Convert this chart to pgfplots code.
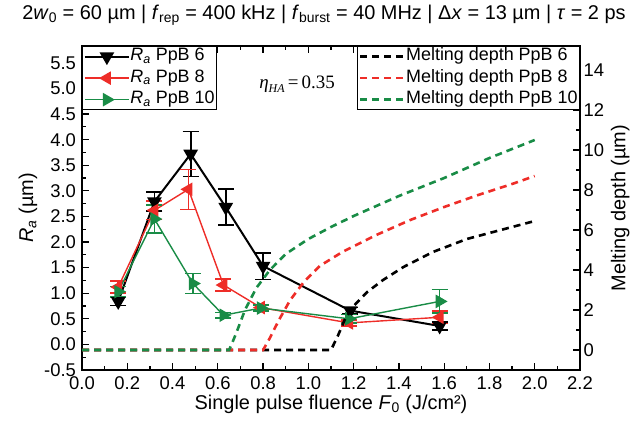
\documentclass[border=0pt]{standalone}
\usepackage{pgfplots}
\pgfplotsset{compat=1.18}
\usepackage{pgfplotstable}
\usepackage{fontspec}
\setmainfont{Liberation Sans}
\newfontfamily\serif{Liberation Serif}

\definecolor{cred}{RGB}{238,45,40}
\definecolor{cgreen}{RGB}{25,140,70}

% surface roughness: x, Ra, error
\pgfplotstableread{
x y e
0.16 0.84 0.08
0.32 2.79 0.18
0.48 3.72 0.44
0.635 2.68 0.35
0.80 1.53 0.26
1.185 0.66 0.06
1.58 0.36 0.08
}\rasix
\pgfplotstableread{
x y e
0.16 1.12 0.12
0.32 2.62 0.18
0.47 3.03 0.39
0.625 1.16 0.12
0.79 0.72 0.05
1.18 0.42 0.06
1.58 0.53 0.12
}\raeight
\pgfplotstableread{
x y e
0.16 1.03 0.10
0.32 2.45 0.27
0.49 1.19 0.20
0.625 0.57 0.05
0.79 0.71 0.06
1.18 0.50 0.08
1.58 0.84 0.23
}\raten

% simulated melting depth
\pgfplotstableread{
x y
0.00 0
1.10 0
1.13 0.7
1.16 1.5
1.20 2.2
1.26 2.9
1.33 3.5
1.42 4.15
1.55 4.9
1.70 5.55
1.85 6.0
2.00 6.45
}\mdsix
\pgfplotstableread{
x y
0.00 0
0.80 0
0.83 0.6
0.87 1.5
0.92 2.5
0.98 3.4
1.05 4.2
1.15 4.9
1.30 5.75
1.45 6.5
1.60 7.15
1.75 7.75
1.90 8.3
2.00 8.7
}\mdeight
\pgfplotstableread{
x y
0.00 0
0.65 0
0.68 0.8
0.72 2.0
0.77 3.1
0.83 4.0
0.90 4.8
1.00 5.55
1.10 6.15
1.20 6.7
1.40 7.7
1.60 8.6
1.80 9.6
2.00 10.5
}\mdten

\pgfplotsset{
  common/.style={
    scale only axis, width=498bp, height=324bp,
    at={(0,0)}, anchor=south west,
    xmin=0, xmax=2.2,
    axis line style={line width=1.5bp},
    major tick length=7bp, minor tick length=4bp,
    every tick/.style={black, line width=1.2bp},
    tick align=inside,
    ticklabel style={font=\fontsize{18.5}{20}\selectfont},
    /pgf/number format/assume math mode=true,
    label style={font=\fontsize{20}{22}\selectfont},
    legend cell align=left,
  },
  leg/.style={draw=black, line width=0.8bp,
    font=\fontsize{18}{19}\selectfont, inner sep=1.5bp, row sep=4bp,
    nodes={inner sep=0.5bp, text height=12.5bp, text depth=4bp}},
}

\begin{document}
\begin{tikzpicture}
\useasboundingbox (-82bp,-59bp) rectangle (555bp,370bp);

\begin{axis}[common,
  ymin=-0.5, ymax=5.83,
  xtick={0,0.2,...,2.21}, minor x tick num=1,
  ytick={-0.5,0,...,5.51}, minor y tick num=1,
  xtick pos=both, ytick pos=left,
  xticklabel style={yshift=-3bp, /pgf/number format/.cd, fixed, fixed zerofill, precision=1},
  yticklabel style={xshift=-2.5bp, /pgf/number format/.cd, fixed, fixed zerofill, precision=1},
  xlabel={Single pulse fluence \textit{F}\textsubscript{0} (J/cm²)},
  xlabel style={yshift=1bp},
  ylabel={\textit{R}\textsubscript{\textit{a}} (µm)},
  legend style={leg, at={(0,1)}, anchor=north west},
  legend image code/.code={\draw[mark repeat=2,mark phase=2] plot coordinates {(0bp,0bp) (22bp,0bp) (44bp,0bp)};},
  error bars/y dir=both, error bars/y explicit,
]
\addplot[black, line width=2bp, mark=triangle*, mark size=6.5bp,
  mark options={rotate=180, solid},
  error bars/error bar style={line width=1.8bp},
  error bars/error mark options={rotate=90, mark size=8bp, line width=1.8bp}]
  table[x=x, y=y, y error=e] {\rasix};
\addlegendentry{\textit{R}\textsubscript{\textit{a}} PpB 6}
\addplot[cred, line width=1.4bp, mark=triangle*, mark size=6.5bp,
  mark options={rotate=90, solid},
  error bars/error bar style={line width=1.5bp},
  error bars/error mark options={rotate=90, mark size=8bp, line width=1.5bp}]
  table[x=x, y=y, y error=e] {\raeight};
\addlegendentry{\textit{R}\textsubscript{\textit{a}} PpB 8}
\addplot[cgreen, line width=1.4bp, mark=triangle*, mark size=6.5bp,
  mark options={rotate=-90, solid},
  error bars/error bar style={line width=1.5bp},
  error bars/error mark options={rotate=90, mark size=8bp, line width=1.5bp}]
  table[x=x, y=y, y error=e] {\raten};
\addlegendentry{\textit{R}\textsubscript{\textit{a}} PpB 10}

\node at (axis cs:0.95,5.08) {\serif\fontsize{19}{21}\selectfont\textit{η}\raisebox{-0.45ex}{\fontsize{12}{14}\selectfont\textit{HA}}\,=\,0.35};
\end{axis}

\begin{axis}[common,
  ymin=-1, ymax=15.2,
  axis x line=none, axis y line*=right,
  ytick={0,2,...,14}, minor y tick num=1,
  ylabel={Melting depth (µm)},
  legend style={leg, at={(1,1)}, anchor=north east},
  legend image code/.code={\draw plot coordinates {(0bp,0bp) (44bp,0bp)};},
]
\addplot[black, line width=2.6bp, dash pattern=on 7bp off 5bp, no marks] table {\mdsix};
\addlegendentry{Melting depth PpB 6}
\addplot[cred, line width=2.6bp, dash pattern=on 7bp off 5bp, no marks] table {\mdeight};
\addlegendentry{Melting depth PpB 8}
\addplot[cgreen, line width=2.6bp, dash pattern=on 7bp off 5bp, no marks] table {\mdten};
\addlegendentry{Melting depth PpB 10}
\end{axis}

\node at (242bp,355bp) {\fontsize{20}{22}\selectfont 2\textit{w}\textsubscript{0} = 60 µm | \textit{f}\textsubscript{rep} = 400 kHz | \textit{f}\textsubscript{burst} = 40 MHz | Δ\textit{x} = 13 µm | \textit{τ} = 2 ps};
\end{tikzpicture}
\end{document}
